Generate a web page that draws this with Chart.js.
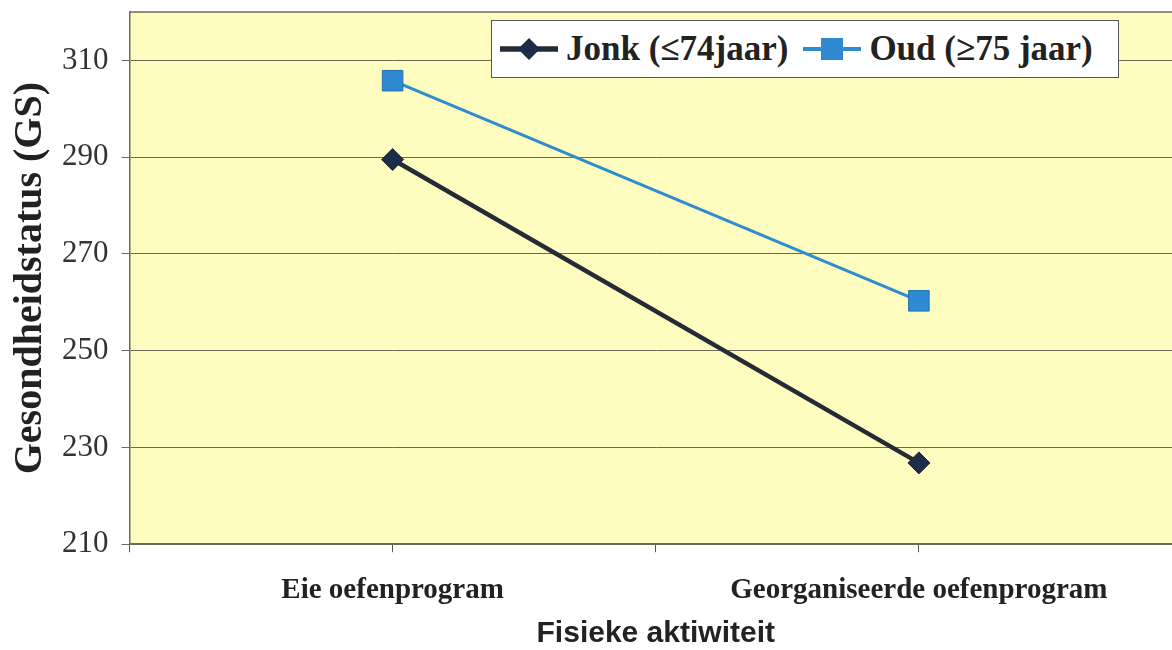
<!DOCTYPE html>
<html>
<head>
<meta charset="utf-8">
<script src="https://cdn.jsdelivr.net/npm/chart.js@4/dist/chart.umd.min.js"></script>
<style>
  body { margin: 0; background: #fff; overflow: hidden; }
  #wrap { position: relative; width: 1182px; height: 650px; }
  #legend {
    position: absolute; left: 491px; top: 20px; width: 626px; height: 56px;
    background: #fff; border: 1px solid #555;
    display: flex; align-items: center;
    font: bold 35px "Liberation Serif", serif; color: #222;
  }
  #legend .item { display: flex; align-items: center; }
  #legend .item + .item { margin-left: 7px; }
  #legend canvas { margin: 0 6px 0 6px; }
</style>
</head>
<body>
<div id="wrap">
  <canvas id="chart" width="1182" height="650"></canvas>
  <div id="legend"></div>
</div>
<script>
// data
const categories = ['Eie oefenprogram', 'Georganiseerde oefenprogram'];
const seriesNames = ['Jonk (≤74jaar)', 'Oud (≥75 jaar)'];
const jonk = [289.5, 226.8];
const oud = [305.8, 260.3];
const yTicks = [210, 230, 250, 270, 290, 310];
const xTicks = [-0.5, 0, 0.5, 1, 1.5];

const colJonk = '#252b36';
const colOud = '#2f8ccf';

// achtergrond van die plotarea
const plotBg = {
  id: 'plotBg',
  beforeDraw(chart) {
    const { ctx, chartArea: a } = chart;
    ctx.save();
    ctx.fillStyle = '#fefcbe';
    ctx.fillRect(a.left, a.top, a.right - a.left, a.bottom - a.top);
    ctx.strokeStyle = '#6e6a58';
    ctx.lineWidth = 1.5;
    ctx.beginPath();
    ctx.moveTo(a.left, a.top);
    ctx.lineTo(a.right, a.top);
    ctx.stroke();
    ctx.restore();
  }
};

const datasets = [
  {
    label: seriesNames[0],
    data: jonk.map((v, i) => ({ x: i, y: v })),
    borderColor: colJonk,
    borderWidth: 4.5,
    pointStyle: 'rectRot',
    pointRadius: 11,
    pointBackgroundColor: '#1d2c48',
    pointBorderColor: colJonk,
    pointBorderWidth: 1
  },
  {
    label: seriesNames[1],
    data: oud.map((v, i) => ({ x: i, y: v })),
    borderColor: colOud,
    borderWidth: 3,
    pointStyle: 'rect',
    pointRadius: 14.5,
    pointBackgroundColor: '#2f8ad2',
    pointBorderColor: '#1f6fae',
    pointBorderWidth: 1
  }
];

const chart = new Chart(document.getElementById('chart'), {
  type: 'line',
  data: { datasets },
  plugins: [plotBg],
  options: {
    responsive: false,
    animation: false,
    layout: { autoPadding: false, padding: { left: 7, top: 12, right: 0, bottom: 0 } },
    plugins: { legend: { display: false }, tooltip: { enabled: false } },
    scales: {
      x: {
        type: 'linear',
        min: -0.5,
        max: 1.5,
        afterBuildTicks: axis => { axis.ticks = xTicks.map(v => ({ value: v })); },
        afterFit: axis => { axis.paddingLeft = 0; axis.paddingRight = 0; },
        ticks: {
          autoSkip: false,
          maxRotation: 0,
          padding: 21,
          color: '#222',
          font: { family: 'Liberation Serif', size: 29, weight: 'bold' },
          callback: v => Number.isInteger(v) ? categories[v] : ''
        },
        grid: { drawOnChartArea: false, tickLength: 8, color: '#555' },
        border: { color: '#6e6a58', width: 1.5 },
        title: {
          display: true,
          text: 'Fisieke aktiwiteit',
          color: '#222',
          padding: { top: -10, bottom: 1 },
          font: { family: 'Liberation Sans', size: 30, weight: 'bold', lineHeight: 1 }
        }
      },
      y: {
        min: 210,
        max: 320,
        afterBuildTicks: axis => { axis.ticks = yTicks.map(v => ({ value: v })); },
        afterFit: axis => { axis.paddingTop = 0; axis.paddingBottom = 0; },
        ticks: {
          padding: 13,
          color: '#333',
          font: { family: 'Liberation Serif', size: 31 }
        },
        grid: { color: '#6e6a58', lineWidth: 1, tickLength: 8 },
        border: { color: '#6e6a58', width: 1.5 },
        title: {
          display: true,
          text: 'Gesondheidstatus (GS)',
          color: '#222',
          padding: { top: 0, bottom: -6 },
          font: { family: 'Liberation Serif', size: 40, weight: 'bold' }
        }
      }
    }
  }
});

// legende binne die plotarea
function drawMarker(cnv, ds) {
  const c = cnv.getContext('2d');
  const w = cnv.width, h = cnv.height;
  c.strokeStyle = ds.borderColor;
  c.lineWidth = ds.borderWidth + 1;
  c.beginPath();
  c.moveTo(2, h / 2);
  c.lineTo(w - 2, h / 2);
  c.stroke();
  c.fillStyle = ds.pointBackgroundColor;
  c.beginPath();
  if (ds.pointStyle === 'rectRot') {
    const r = 11;
    c.moveTo(w / 2, h / 2 - r);
    c.lineTo(w / 2 + r, h / 2);
    c.lineTo(w / 2, h / 2 + r);
    c.lineTo(w / 2 - r, h / 2);
  } else {
    const s = 11;
    c.rect(w / 2 - s, h / 2 - s, 2 * s, 2 * s);
  }
  c.closePath();
  c.fill();
}

const legend = document.getElementById('legend');
datasets.forEach(ds => {
  const item = document.createElement('div');
  item.className = 'item';
  const cnv = document.createElement('canvas');
  cnv.width = 62;
  cnv.height = 26;
  drawMarker(cnv, ds);
  const span = document.createElement('span');
  span.textContent = ds.label;
  item.appendChild(cnv);
  item.appendChild(span);
  legend.appendChild(item);
});
</script>
</body>
</html>
